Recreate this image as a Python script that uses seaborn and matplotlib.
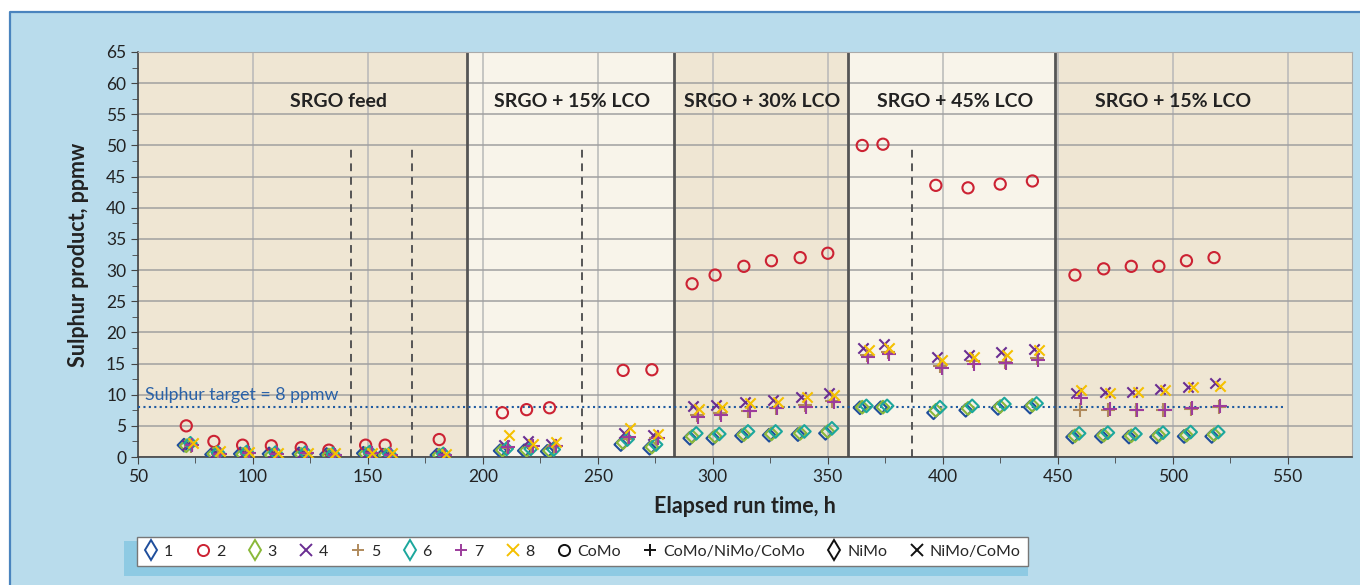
import matplotlib
matplotlib.use("Agg")
import matplotlib.pyplot as plt
from matplotlib.lines import Line2D
from matplotlib.patches import Rectangle
import numpy as np
import seaborn as sns

# Sampling times (h) of each run, grouped by feed period
times_feed = [71, 83, 95.5, 108, 121, 133, 149, 157.5, 181]
times_lco15 = [208.5, 219, 229, 261, 273.5]
times_lco30 = [291, 301, 313.5, 325.5, 338, 350]
times_lco45 = [365, 374, 397, 411, 425, 439]
times_lco15b = [457.5, 470, 482, 494, 506, 518]
sample_times = times_feed + times_lco15 + times_lco30 + times_lco45 + times_lco15b

# small per-reactor shift of the sampling time
reactors = ["1", "2", "3", "4", "5", "6", "7", "8"]
sample_offset_h = [-1.0, 0.0, 0.0, 0.5, 2.0, 1.8, 2.6, 2.8]

# Sulphur in product, ppmw
s_r1 = [1.9, 0.4, 0.5, 0.5, 0.5, 0.4, 0.6, 0.3, 0.3,
        1.0, 1.0, 0.9, 2.0, 1.4,
        3.0, 3.0, 3.4, 3.5, 3.6, 3.8,
        7.9, 7.9, 7.1, 7.5, 7.8, 8.0,
        3.2, 3.3, 3.2, 3.2, 3.3, 3.3]
s_r2 = [5.0, 2.5, 1.9, 1.8, 1.5, 1.1, 1.9, 1.9, 2.8,
        7.1, 7.6, 7.9, 13.9, 14.0,
        27.8, 29.2, 30.6, 31.5, 32.0, 32.7,
        50.0, 50.2, 43.6, 43.2, 43.8, 44.3,
        29.2, 30.2, 30.6, 30.6, 31.5, 32.0]
s_r3 = [1.8, 0.5, 0.4, 0.3, 0.4, 0.3, 0.5, 0.3, 0.3,
        1.1, 1.1, 1.0, 2.3, 1.6,
        3.3, 3.3, 3.6, 3.7, 3.8, 4.1,
        8.0, 8.0, 7.5, 7.8, 8.1, 8.3,
        3.4, 3.5, 3.4, 3.5, 3.5, 3.6]
s_r4 = [1.9, 0.6, 0.6, 0.6, 0.6, 0.4, 0.6, 0.4, 0.3,
        2.0, 2.6, 2.1, 3.9, 3.5,
        8.2, 8.4, 8.8, 9.2, 9.7, 10.2,
        17.5, 18.1, 16.0, 16.4, 16.8, 17.3,
        10.2, 10.4, 10.5, 10.9, 11.3, 11.8]
s_r5 = [1.8, 0.5, 0.5, 0.5, 0.5, 0.4, 0.5, 0.4, 0.3,
        1.4, 1.6, 1.7, 2.9, 3.0,
        6.8, 7.0, 7.4, 7.8, 8.3, 9.0,
        16.4, 16.8, 14.6, 15.4, 15.3, 15.9,
        7.6, 7.6, 7.6, 7.6, 7.7, 8.0]
s_r6 = [2.2, 0.7, 0.8, 0.7, 0.7, 0.5, 0.8, 0.5, 0.5,
        1.3, 1.3, 1.2, 2.8, 2.0,
        3.8, 3.7, 4.1, 4.1, 4.1, 4.6,
        8.2, 8.2, 8.0, 8.2, 8.5, 8.6,
        3.8, 3.9, 3.7, 3.9, 4.0, 4.0]
s_r7 = [1.9, 0.5, 0.6, 0.5, 0.6, 0.4, 0.6, 0.4, 0.3,
        1.6, 1.8, 1.8, 3.2, 3.1,
        6.5, 6.8, 7.4, 7.8, 8.1, 8.8,
        16.0, 16.5, 14.3, 15.0, 15.1, 15.6,
        9.5, 7.7, 7.6, 7.6, 7.9, 8.2]
s_r8 = [2.2, 0.9, 0.8, 0.7, 0.7, 0.6, 0.7, 0.6, 0.5,
        3.5, 2.1, 2.4, 4.6, 3.7,
        7.7, 8.1, 8.6, 8.9, 9.7, 10.0,
        17.1, 17.5, 15.6, 16.1, 16.4, 17.1,
        10.7, 10.2, 10.4, 10.8, 11.2, 11.4]
sulphur = [s_r1, s_r2, s_r3, s_r4, s_r5, s_r6, s_r7, s_r8]

# Feed periods
period_names = ["SRGO feed", "SRGO + 15% LCO", "SRGO + 30% LCO",
                "SRGO + 45% LCO", "SRGO + 15% LCO"]
period_bounds = [50, 193, 283, 359, 449, 578]
label_x = [137, 239, 321.5, 405.5, 500]
catalyst_changes = [142.5, 169, 243, 386.5]
target_ppmw = 8

catalysts = ["CoMo", "CoMo/NiMo/CoMo", "NiMo", "NiMo/CoMo"]

# styles
colors = ["#1f4e9c", "#cc2233", "#8ab83a", "#6a2d92",
          "#b08a5c", "#1ca79d", "#9c3c9c", "#f5c000"]
markers = ["D", "o", "D", "x", "+", "D", "+", "x"]
sizes = [42, 65, 42, 55, 95, 42, 95, 55]
cat_markers = ["o", "+", "d", "x"]
tan = "#efe6d3"
cream = "#f8f4ea"
panel_blue = "#b9dcec"

sns.set_style("ticks")
plt.rcParams["font.family"] = ["Lato", "DejaVu Sans"]

fig = plt.figure(figsize=(13.6, 5.85), dpi=100)
fig.patch.set_facecolor("white")
fig.patches.append(Rectangle((10 / 1360, 0), 1 - 10 / 1360, 573 / 585,
                             transform=fig.transFigure, facecolor=panel_blue,
                             edgecolor="none", zorder=-10))
fig.lines.append(Line2D([10 / 1360, 10 / 1360, 1], [0, 573 / 585, 573 / 585],
                        transform=fig.transFigure, color="#4a84be", lw=1.6))
# shadow band behind the legend
fig.patches.append(Rectangle((124 / 1360, 9 / 585), 904 / 1360, 35 / 585,
                             transform=fig.transFigure, facecolor="#8ecae3",
                             edgecolor="none", zorder=-5))

ax = fig.add_axes([138 / 1360, 128 / 585, 1214 / 1360, 405 / 585])
ax.set_facecolor("none")

for i, name in enumerate(period_names):
    ax.axvspan(period_bounds[i], period_bounds[i + 1],
               color=tan if i % 2 == 0 else cream, zorder=0, lw=0)
    ax.text(label_x[i], 57, name, ha="center", va="center", fontsize=14,
            fontweight="bold", color="#222222")

ax.set_xlim(50, 578)
ax.set_ylim(0, 65)
ax.set_xticks(np.arange(50, 551, 50))
ax.set_xticks(np.arange(75, 551, 50), minor=True)
ax.set_yticks(np.arange(0, 66, 5))
ax.set_yticks(np.arange(2.5, 65, 5), minor=True)
ax.grid(axis="y", which="major", color="#a0a0a0", lw=1.1, zorder=1)
ax.grid(axis="x", which="major", color="#b8b8b8", lw=1.1, zorder=1)
ax.set_axisbelow(True)

for b in period_bounds[1:-1]:
    ax.axvline(b, color="#555555", lw=2, zorder=2)
for c in catalyst_changes:
    ax.plot([c, c], [0, 50], color="#555555", lw=1.4, ls=(0, (4, 3)), zorder=2)

ax.plot([50, 548], [target_ppmw, target_ppmw], color="#1f5aa0", lw=1.5,
        ls=(0, (1, 1.6)), zorder=3)
ax.text(53, 10, "Sulphur target = 8 ppmw", color="#2a62a8", fontsize=12.8,
        ha="left", va="center")

for k, r in enumerate(reactors):
    xs = [t + sample_offset_h[k] for t in sample_times]
    if markers[k] in ("x", "+"):
        sns.scatterplot(x=xs, y=sulphur[k], ax=ax, marker=markers[k],
                        color=colors[k], s=sizes[k], linewidth=1.5, zorder=5)
    else:
        sns.scatterplot(x=xs, y=sulphur[k], ax=ax, marker=markers[k],
                        facecolor="none", edgecolor=colors[k], s=sizes[k],
                        linewidth=1.5, zorder=5)

for sp in ["top", "right"]:
    ax.spines[sp].set_visible(True)
    ax.spines[sp].set_color("#aaaaaa")
for sp in ["left", "bottom"]:
    ax.spines[sp].set_color("#444444")
    ax.spines[sp].set_linewidth(1.2)
ax.tick_params(axis="both", which="both", direction="out", colors="#444444",
               labelcolor="#222222", labelsize=12.5)
ax.tick_params(which="major", length=5)
ax.tick_params(which="minor", length=4)

ax.set_xlabel("Elapsed run time, h", fontsize=15.5, fontweight="bold",
              color="#222222", labelpad=8)
ax.set_ylabel("Sulphur product, ppmw", fontsize=15.5, fontweight="bold",
              color="#222222", labelpad=12)

handles = []
for k, r in enumerate(reactors):
    m = "d" if markers[k] == "D" else markers[k]
    handles.append(Line2D([], [], ls="none", marker=m, markersize=10 if m == "d" else 8,
                          markerfacecolor="none", markeredgecolor=colors[k],
                          markeredgewidth=1.4, label=r))
for m, name in zip(cat_markers, catalysts):
    handles.append(Line2D([], [], ls="none", marker=m, markersize=10 if m == "d" else 8,
                          markerfacecolor="none", markeredgecolor="#111111",
                          markeredgewidth=1.4, label=name))
leg = fig.legend(handles=handles, ncol=12, loc="lower left",
                 bbox_to_anchor=(137 / 1360, 19 / 585), borderaxespad=0,
                 frameon=True, fancybox=False, edgecolor="#777777",
                 facecolor="white", framealpha=1, fontsize=11.5,
                 handlelength=0.9, handletextpad=0.35, columnspacing=1.4,
                 borderpad=0.45)
leg.get_frame().set_linewidth(1.0)

fig.savefig("out.png", dpi=100, facecolor=fig.get_facecolor())
